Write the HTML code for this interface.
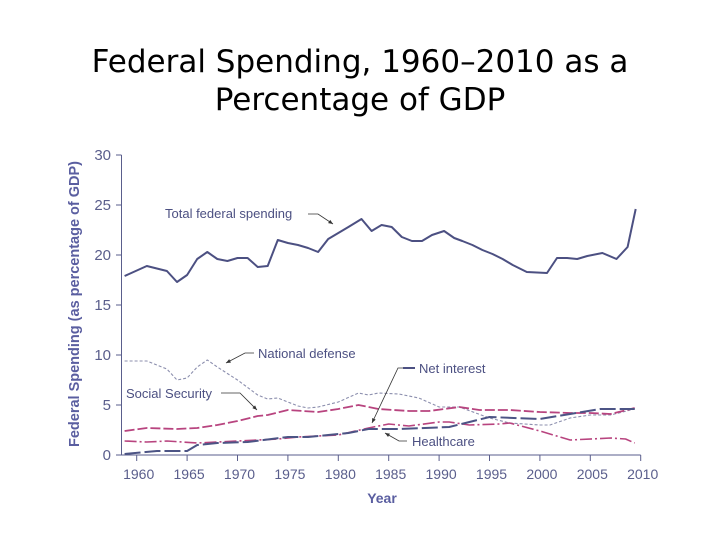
<!DOCTYPE html>
<html><head><meta charset="utf-8"><style>
html,body{margin:0;padding:0;background:#fff;width:720px;height:540px;overflow:hidden}
.title{position:absolute;left:0;width:720px;text-align:center;font-family:"DejaVu Sans","Liberation Sans",sans-serif;font-size:31px;color:#000;line-height:38px}
</style></head><body>
<div class="title" style="top:43px">Federal Spending, 1960–2010 as a<br>Percentage of GDP</div>
<svg id="chart" width="720" height="540" style="position:absolute;left:0;top:0"></svg>
<script>
const yTicks=[0,5,10,15,20,25,30];
const xTicks=[1960,1965,1970,1975,1980,1985,1990,1995,2000,2005,2010];
const totalYears=[1958.8,1961,1963,1964,1965,1966,1967,1968,1969,1970,1971,1972,1973,1974,1975,1976,1977,1978,1979,1980,1981,1982.3,1983.3,1984.3,1985.3,1986.3,1987.3,1988.3,1989.3,1990.5,1991.5,1992.3,1993.3,1994.3,1995.3,1996.3,1997.3,1998.7,2000.7,2001.7,2002.7,2003.7,2004.7,2006.2,2007.6,2008.7,2009.5];
const totalVals=[17.9,18.9,18.4,17.3,18.0,19.6,20.3,19.6,19.4,19.7,19.7,18.8,18.9,21.5,21.2,21.0,20.7,20.3,21.6,22.2,22.8,23.6,22.4,23.0,22.8,21.8,21.4,21.4,22.0,22.4,21.7,21.4,21.0,20.5,20.1,19.6,19.0,18.3,18.2,19.7,19.7,19.6,19.9,20.2,19.6,20.8,24.6];
const defYears=[1958.8,1961,1963,1964,1965,1966,1967,1968,1970,1972,1973,1974,1976,1977,1978,1980,1982,1983,1984,1986,1988,1990,1992,1995,1997,2000,2001,2003,2005,2007,2009.4];
const defVals=[9.4,9.4,8.6,7.5,7.7,8.8,9.5,8.8,7.5,6.0,5.6,5.7,4.9,4.7,4.8,5.3,6.2,6.0,6.2,6.1,5.7,4.8,4.8,3.7,3.2,3.0,3.0,3.7,4.0,4.0,4.6];
const ssYears=[1958.8,1961,1964,1966,1968,1970,1972,1973,1975,1978,1980,1982,1984,1987,1989,1992,1994,1997,2000,2003,2005,2007,2009.4];
const ssVals=[2.4,2.7,2.6,2.7,3.0,3.4,3.9,4.0,4.5,4.3,4.6,5.0,4.6,4.4,4.4,4.8,4.5,4.5,4.3,4.2,4.2,4.1,4.7];
const niYears=[1958.8,1961,1963,1966,1970,1974,1976,1980,1983,1985,1987,1990,1991,1993,1996,1997,2000,2003,2007,2008.5,2009.4];
const niVals=[1.4,1.3,1.4,1.2,1.4,1.6,1.8,2.0,2.7,3.1,2.9,3.3,3.3,3.0,3.1,3.2,2.4,1.5,1.7,1.6,1.2];
const hcYears=[1958.8,1962,1965,1966,1968,1971,1975,1977,1979,1981,1983,1986,1991,1995,2000,2003,2006,2009.4];
const hcVals=[0.1,0.4,0.4,1.0,1.2,1.3,1.8,1.8,2.0,2.2,2.6,2.6,2.8,3.8,3.6,4.1,4.6,4.6];

const NS='http://www.w3.org/2000/svg';
const svg=document.getElementById('chart');
const X=y=>136.7+(y-1960)*10.08;
const Y=v=>455-v*10;
const ax='#5a5e8c';
function mk(t,a,p){const e=document.createElementNS(NS,t);for(const k in a)e.setAttribute(k,a[k]);(p||svg).appendChild(e);return e;}
let e=mk('line',{x1:121.5,y1:155,x2:121.5,y2:455,stroke:ax,'stroke-width':1});


e=mk('line',{x1:121.5,y1:455,x2:X(2010),y2:455,stroke:ax,'stroke-width':1});


yTicks.forEach(v=>{
  mk('line',{x1:116,y1:Y(v),x2:121.5,y2:Y(v),stroke:ax});
  const t=mk('text',{x:111,y:Y(v)+5,'text-anchor':'end','font-family':'Liberation Sans, sans-serif','font-size':15,fill:ax});
  t.textContent=v;
  
  
});
xTicks.forEach(v=>{
  mk('line',{x1:X(v),y1:455,x2:X(v),y2:461,stroke:ax});
  const t=mk('text',{x:X(v)+2,y:479,'text-anchor':'middle','font-family':'Liberation Sans, sans-serif','font-size':14,fill:ax});
  t.textContent=v;
  
  
});
let t=mk('text',{x:0,y:0,transform:'translate(79,304) rotate(-90)','text-anchor':'middle','font-family':'Liberation Sans, sans-serif','font-size':14.5,'font-weight':'bold',fill:'#5a5ea0'});
t.textContent='Federal Spending (as percentage of GDP)';


t=mk('text',{x:382,y:503,'text-anchor':'middle','font-family':'Liberation Sans, sans-serif','font-size':14,'font-weight':'bold',fill:'#5a5ea0'});
t.textContent='Year';



function series(xs,vs,stroke,w,dash,name){
  const d=xs.map((x,i)=>(i?'L':'M')+X(x).toFixed(1)+','+Y(vs[i]).toFixed(1)).join(' ');
  const p=mk('path',{d:d,fill:'none',stroke:stroke,'stroke-width':w,'stroke-dasharray':dash,'stroke-linejoin':'round'});
  
  
}
series(defYears,defVals,'#8c8fae',1.1,'3,2','national-defense-line');
series(ssYears,ssVals,'#b8447f',1.8,'10,3','social-security-line');
series(niYears,niVals,'#b8447f',1.6,'12,3,2,3','net-interest-line');
series(hcYears,hcVals,'#4c5485',2,'16,4','healthcare-line');
series(totalYears,totalVals,'#4c5082',2,'','total-spending-line');

function label(x,y,s,name){
  const t=mk('text',{x:x,y:y,'font-family':'Liberation Sans, sans-serif','font-size':13,fill:'#4c5082'});
  t.textContent=s;
  
  
}
function arrow(pts,name){
  const l=mk('polyline',{points:pts.map(p=>p.join(',')).join(' '),fill:'none',stroke:'#333','stroke-width':0.8});
  
  
  const [a,b]=pts.slice(-2);const ang=Math.atan2(b[1]-a[1],b[0]-a[0]);
  const s=5;const p1=[b[0]-s*Math.cos(ang-0.4),b[1]-s*Math.sin(ang-0.4)],p2=[b[0]-s*Math.cos(ang+0.4),b[1]-s*Math.sin(ang+0.4)];
  mk('polygon',{points:[b,p1,p2].map(p=>p.join(',')).join(' '),fill:'#333'});
}
label(165,218,'Total federal spending','total-spending-label');
arrow([[308,214],[318,214],[333,224]],'total-spending-arrow');
label(258,358,'National defense','national-defense-label');
arrow([[254,353],[245,353],[226,363]],'national-defense-arrow');
label(126,398,'Social Security','social-security-label');
arrow([[221,393],[240,393],[257,410]],'social-security-arrow');
label(419,373,'Net interest','net-interest-label');
mk('line',{x1:403,y1:368,x2:415,y2:368,stroke:'#4c5082','stroke-width':2});
arrow([[403,368],[398,368],[372,423]],'net-interest-arrow');
label(412,446,'Healthcare','healthcare-label');
arrow([[407,441],[399,441],[385,433]],'healthcare-arrow');
</script>
</body></html>
